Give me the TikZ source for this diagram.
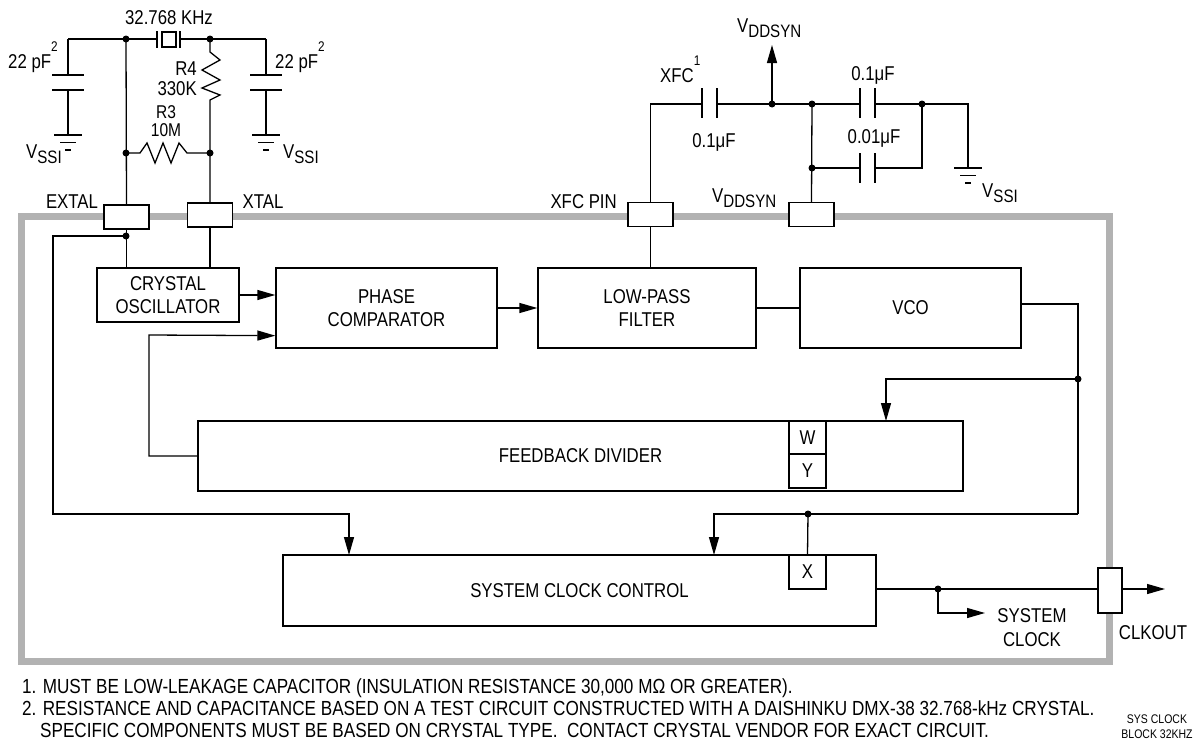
\documentclass[tikz,border=0pt]{standalone}
\usepackage{fontspec}
\setmainfont{Liberation Sans}[FakeStretch=0.84]
\usetikzlibrary{arrows.meta, calc}

\definecolor{framegray}{gray}{0.7}
\newcommand{\Vlow}[1]{V\raisebox{-5pt}{\fontsize{18}{18}\selectfont #1}}
\newcommand{\supnum}[1]{\raisebox{17pt}{\fontsize{14}{14}\selectfont #1}}

\tikzset{
  wire/.style = {line width=1.3pt},
  arr/.style = {wire, -{Triangle[length=18pt, width=10pt]}},
  block/.style = {draw, line width=1.3pt, inner sep=0pt, align=center},
  pinbox/.style = {draw, fill=white, line width=1.3pt, inner sep=0pt, minimum width=45pt, minimum height=24pt},
  jdot/.style = {circle, fill=black, inner sep=0pt, minimum size=7pt},
  lbl/.style = {inner sep=0pt},
  note/.style = {lbl, anchor=base west, font=\fontsize{20.4}{22}\selectfont}
}

\begin{document}
\begin{tikzpicture}[x=1pt, y=-1pt, font=\fontsize{20}{22.5}\selectfont]
  \useasboundingbox (0,0) rectangle (1194,742);

  % chip outline
  \draw [framegray, line width=7pt] (21.5,216) rectangle (1109.5,661.5);

  % blocks
  \node [block, minimum width=142pt, minimum height=54pt] (osc) at (168,295) {CRYSTAL\\OSCILLATOR};
  \node [block, minimum width=221pt, minimum height=80pt] (phcomp) at (386.5,308) {PHASE\\COMPARATOR};
  \node [block, minimum width=218pt, minimum height=80pt] (lpf) at (647,308) {LOW-PASS\\FILTER};
  \node [block, minimum width=221pt, minimum height=80pt] (vco) at (910.5,308) {VCO};
  \node [block, minimum width=765pt, minimum height=70pt] (fbdiv) at (580.5,456) {FEEDBACK DIVIDER};
  \node [block, minimum width=593pt, minimum height=71pt] (sysclk) at (579.5,590.5) {SYSTEM CLOCK CONTROL};
  \node [block, minimum width=37pt, minimum height=33pt] (wbox) at (807.5,437.5) {W};
  \node [block, minimum width=37pt, minimum height=34pt] (ybox) at (807.5,471) {Y};
  \node [block, minimum width=37pt, minimum height=34pt] (xbox) at (807.5,572) {X};

  % pins on the outline
  \node [pinbox] (pinextal) at (126.5,217) {};
  \node [pinbox] (pinxtal) at (210,215) {};
  \node [pinbox] (pinxfc) at (650.5,214.5) {};
  \node [pinbox] (pinvdd) at (811.5,214.5) {};
  \node [pinbox, minimum width=24pt, minimum height=45pt] (pinclk) at (1110,590.5) {};

  \node [lbl, anchor=base] (lextal) at (72,208) {EXTAL};
  \node [lbl, anchor=base] (lxtal) at (263,208) {XTAL};
  \node [lbl, anchor=base east] (lxfcpin) at (617,208) {XFC PIN};
  \node [lbl, anchor=base west] (lvddpin) at (712,202) {\Vlow{DDSYN}};
  \node [lbl, anchor=base] (lclkout) at (1153,639) {CLKOUT};
  \node [lbl, align=center, font=\fontsize{20}{24}\selectfont] (lsysclk) at (1032,627.5) {SYSTEM\\CLOCK};

  % junctions
  \coordinate (jext) at (126,236);
  \coordinate (jv1) at (1078,379);
  \coordinate (jv2) at (1078,514);
  \coordinate (jx) at (808,514);
  \coordinate (jout) at (938,589);
  \coordinate (sccin) at (349,555);
  \coordinate (fbin) at (886,421);
  \coordinate (sccin2) at (714,555);
  \coordinate (clkend) at (1165,589);
  \coordinate (sysout) at (985,613);

  % internal connections
  \draw [wire] (pinextal.south) -- (pinextal.south |- osc.north);
  \draw [wire] (pinxtal.south) -- (pinxtal.south |- osc.north);
  \draw [arr] (jext) -| (53,514) -| (sccin);
  \draw [arr] (osc.east) -- (phcomp.west |- osc.east);
  \draw [arr] (phcomp.east) -- (lpf.west);
  \draw [wire] (lpf.east) -- (vco.west);
  \draw [wire] (pinxfc.south) -- (pinxfc.south |- lpf.north);
  \draw [arr] (fbdiv.west) -| (149,335) -- ($(phcomp.south west)+(0,-13)$);
  \draw [wire] ($(vco.east)+(0,-4)$) -| (jv1) -- (jv2);
  \draw [arr] (jv1) -| (fbin);
  \draw [arr] (jv2) -| (sccin2);
  \draw [wire] (jx) -- (xbox.north);
  \draw [wire] (sysclk.east |- jout) -- (pinclk.west |- jout);
  \draw [arr] (pinclk.east |- jout) -- (clkend);
  \draw [arr] (jout) |- (sysout);
  \foreach \j in {jext, jv1, jx, jout}
           {
             \node [jdot] at (\j) {};
           }

  % crystal network
  \coordinate (ctl) at (68,39);
  \coordinate (ctr) at (266,39);
  \coordinate (jx1) at (126,39);
  \coordinate (jx2) at (210,39);
  \coordinate (jr1) at (126,153);
  \coordinate (jr2) at (210,153);
  \draw [wire] (ctl) -- (157,39);
  \draw [wire] (180,39) -- (ctr);
  \draw [wire] (157,31) -- (157,48) (180,31) -- (180,48);
  \draw [wire] (162,32) rectangle (176,47);
  \foreach \cx in {68, 266}
           {
             \draw [wire] (\cx,39) -- (\cx,75) (\cx-16,75) -- (\cx+16,75)
                          (\cx-16,90) -- (\cx+16,90) (\cx,90) -- (\cx,135);
           }
  \draw [wire] (jx1) -- (pinextal.north);
  \draw [wire] (jx2) -- (210,52) -- (220,60) -- (202,70) -- (220,80) -- (202,88) -- (220,95) -- (210,100) -- (pinxtal.north);
  \draw [wire] (jr1) -- (140,153) -- (147,143) -- (155,163) -- (163,143) -- (171,163) -- (179,143) -- (187,153) -- (jr2);
  \foreach \j in {jx1, jx2, jr1, jr2}
           {
             \node [jdot] at (\j) {};
           }
  \node [lbl, anchor=base] (lfreq) at (169,24) {32.768 KHz};
  \node [lbl, anchor=base west] (lcap1) at (8,68) {22 pF\supnum{2}};
  \node [lbl, anchor=base west] (lcap2) at (275,68) {22 pF\supnum{2}};
  \node [lbl, anchor=base east] (lr4) at (197,75) {R4};
  \node [lbl, anchor=base east] (lr4v) at (197,95) {330K};
  \node [lbl, anchor=base, font=\fontsize{18.5}{20}\selectfont] (lr3) at (166,118) {R3};
  \node [lbl, anchor=base, font=\fontsize{18.5}{20}\selectfont] (lr3v) at (166,136) {10M};
  \node [lbl, anchor=base west] (lvss1) at (26,158) {\Vlow{SSI}};
  \node [lbl, anchor=base west] (lvss2) at (283,158) {\Vlow{SSI}};

  % filter network
  \coordinate (jd0) at (772,104);
  \coordinate (jd1) at (812,104);
  \coordinate (jd2) at (812,168);
  \coordinate (jd3) at (922,104);
  \coordinate (vddtip) at (772,45);
  \draw [wire] (pinxfc.north) |- (702,104);
  \foreach \px in {702, 717, 860, 875}
           {
             \draw [wire] (\px,88) -- (\px,118);
           }
  \draw [wire] (860,153) -- (860,183) (875,153) -- (875,183);
  \draw [wire] (717,104) -- (860,104);
  \draw [wire] (875,104) -- (968,104) -- (968,168);
  \draw [arr] (jd0) -- (vddtip);
  \draw [wire] (jd1) -- (pinvdd.north);
  \draw [wire] (jd2) -- (860,168);
  \draw [wire] (875,168) -| (jd3);
  \foreach \j in {jd0, jd1, jd2, jd3}
           {
             \node [jdot] at (\j) {};
           }
  \node [lbl, anchor=base west] (lvdd) at (737,32) {\Vlow{DDSYN}};
  \node [lbl, anchor=base west] (lxfc) at (660,82) {XFC\supnum{1}};
  \node [lbl, anchor=base] (lc3) at (714,147) {0.1μF};
  \node [lbl, anchor=base] (lc4) at (873,80) {0.1μF};
  \node [lbl, anchor=base] (lc5) at (874,143) {0.01μF};
  \node [lbl, anchor=base west] (lvss3) at (982,197) {\Vlow{SSI}};

  % grounds
  \foreach \gx/\gy in {68/135, 266/135, 968/168}
           {
             \draw [wire] (\gx-14,\gy) -- (\gx+14,\gy) (\gx-8,\gy+7.5) -- (\gx+8,\gy+7.5) (\gx-3,\gy+15) -- (\gx+3,\gy+15);
           }

  % notes
  \node [note] (n1) at (22,693) {1. MUST BE LOW-LEAKAGE CAPACITOR (INSULATION RESISTANCE 30,000 MΩ OR GREATER).};
  \node [note] (n2) at (22,715) {2. RESISTANCE AND CAPACITANCE BASED ON A TEST CIRCUIT CONSTRUCTED WITH A DAISHINKU DMX-38 32.768-kHz CRYSTAL.};
  \node [note] (n3) at (40,737) {SPECIFIC COMPONENTS MUST BE BASED ON CRYSTAL TYPE.\ \ CONTACT CRYSTAL VENDOR FOR EXACT CIRCUIT.};
  \node [lbl, anchor=base, font=\fontsize{12.5}{14}\selectfont] (tag1) at (1157,723) {SYS CLOCK};
  \node [lbl, anchor=base, font=\fontsize{12.5}{14}\selectfont] (tag2) at (1157,738) {BLOCK 32KHZ};
\end{tikzpicture}
\end{document}
